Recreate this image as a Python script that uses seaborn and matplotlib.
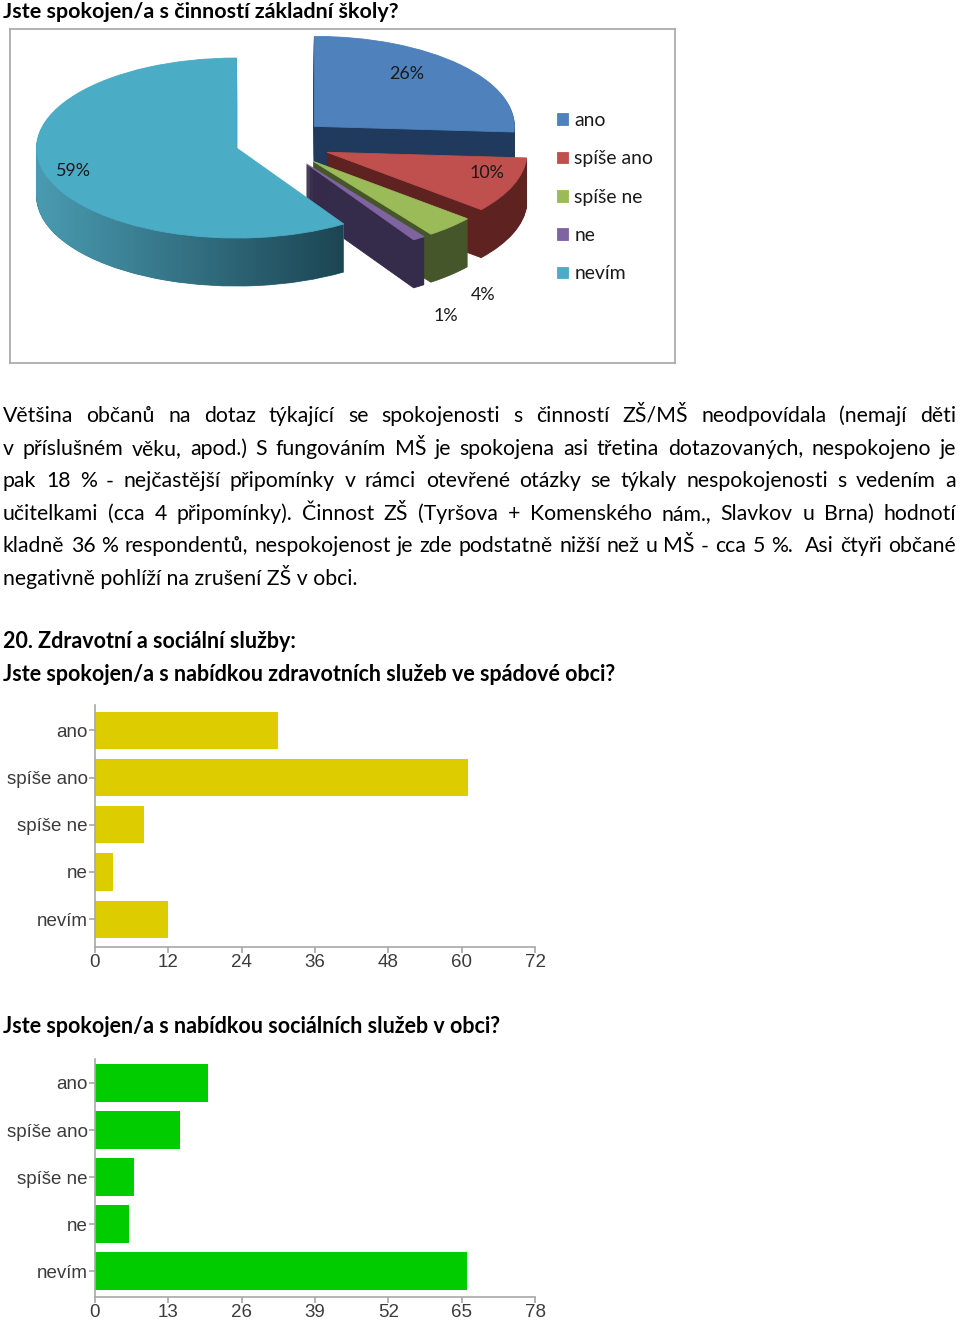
import numpy as np
import pandas as pd
import matplotlib
matplotlib.use("Agg")
import matplotlib.pyplot as plt
from matplotlib.colors import to_rgb
from matplotlib.path import Path
import seaborn as sns

# ---------------- data ----------------
pie_title = "Jste spokojen/a s činností základní školy?"
pie_categories = ["ano", "spíše ano", "spíše ne", "ne", "nevím"]
pie_percent = [26, 10, 4, 1, 59]

paragraph_lines = [
    "Většina občanů na dotaz týkající se spokojenosti s činností ZŠ/MŠ neodpovídala (nemají děti",
    "v příslušném věku, apod.) S fungováním MŠ je spokojena asi třetina dotazovaných, nespokojeno je",
    "pak 18 % - nejčastější připomínky v rámci otevřené otázky se týkaly nespokojenosti s vedením a",
    "učitelkami (cca 4 připomínky). Činnost ZŠ (Tyršova + Komenského nám., Slavkov u Brna) hodnotí",
    "kladně 36 % respondentů, nespokojenost je zde podstatně nižší než u MŠ - cca 5 %.  Asi čtyři občané",
    "negativně pohlíží na zrušení ZŠ v obci.",
]

section_heading = "20. Zdravotní a sociální služby:"

health_title = "Jste spokojen/a s nabídkou zdravotních služeb ve spádové obci?"
health_categories = ["ano", "spíše ano", "spíše ne", "ne", "nevím"]
health_counts = [30, 61, 8, 3, 12]
health_ticks = [0, 12, 24, 36, 48, 60, 72]

social_title = "Jste spokojen/a s nabídkou sociálních služeb v obci?"
social_categories = ["ano", "spíše ano", "spíše ne", "ne", "nevím"]
social_counts = [20, 15, 7, 6, 66]
social_ticks = [0, 13, 26, 39, 52, 65, 78]

# ---------------- style ----------------
pie_colors = ["#4F81BD", "#C0504D", "#9BBB59", "#8064A2", "#4BACC6"]
side_colors = ["#1F3A5C", "#5E2221", "#46562B", "#352B4A", "#2F7A8E"]
nevim_side_light, nevim_side_dark = "#4A9CB2", "#1C4553"
health_color = "#DDCC00"
social_color = "#00CC00"

W, H = 960, 1323
plt.rcParams["font.family"] = ["Lato", "DejaVu Sans"]
fig = plt.figure(figsize=(W / 100, H / 100), dpi=100)
renderer = fig.canvas.get_renderer()


def px_axes(x0, y0, x1, y1):
    return fig.add_axes([x0 / W, 1 - y1 / H, (x1 - x0) / W, (y1 - y0) / H])


def put_text(x, y, s, size, **kw):
    return fig.text(x / W, 1 - y / H, s, fontsize=size, **kw)


def fit_size(s, width, **kw):
    t = fig.text(0, 0, s, fontsize=20, **kw)
    w = t.get_window_extent(renderer).width
    t.remove()
    return 20 * width / w


# ---------------- headings ----------------
put_text(3, 18, pie_title, fit_size(pie_title, 395, weight="bold"),
         weight="bold", va="baseline", color="black")
put_text(3, 648, section_heading, fit_size(section_heading, 293, weight="bold"),
         weight="bold", va="baseline", color="black")
put_text(3, 681, health_title, fit_size(health_title, 614, weight="bold"),
         weight="bold", va="baseline", color="black")
put_text(3, 1033, social_title, fit_size(social_title, 498, weight="bold"),
         weight="bold", va="baseline", color="black")

# ---------------- paragraph (justified) ----------------
para_size = fit_size(paragraph_lines[-1], 354)
LEFT, RIGHT = 3, 956
for i, line in enumerate(paragraph_lines):
    yb = 422 + i * 32.6
    if i == len(paragraph_lines) - 1:
        put_text(LEFT, yb, line, para_size, va="baseline", color="black")
        continue
    words = line.split(" ")
    texts, widths = [], []
    for wd in words:
        if wd == "":
            texts.append(None)
            widths.append(0.0)
            continue
        t = put_text(0, yb, wd, para_size, va="baseline", color="black")
        texts.append(t)
        widths.append(t.get_window_extent(renderer).width)
    gap = (RIGHT - LEFT - sum(widths)) / (len(words) - 1)
    x = LEFT
    for t, w in zip(texts, widths):
        if t is not None:
            t.set_x(x / W)
        x += w + gap

# ---------------- 3D-look pie ----------------
FX0, FY0, FX1, FY1 = 10, 29, 675, 363
ax_pie = px_axes(FX0, FY0, FX1, FY1)
PCX, PCY, R_PX, SQ, DEPTH = 275, 143, 200, 0.45, 48
explode = [0.27, 0.28, 0.28, 0.28, 0.2]
NEVIM = pie_categories.index("nevím")


def dy(px):
    return px / (R_PX * SQ)


nevim_side_paths = []
for k in range(DEPTH, 0, -1):
    z = 1 + (DEPTH - k) * 0.01
    ws, _ = ax_pie.pie(pie_percent, colors=side_colors, startangle=90,
                       counterclock=False, explode=explode, radius=1,
                       center=(0, -dy(k)), frame=True)
    for w in ws:
        w.set_edgecolor(w.get_facecolor())
        w.set_linewidth(0.6)
        w.set_zorder(z)
    nevim_side_paths.append(ws[NEVIM].get_path())

# horizontal shading for the big slice's side, clipped to the swept side region
c0, c1 = np.array(to_rgb(nevim_side_light)), np.array(to_rgb(nevim_side_dark))
ramp = np.linspace(0, 1, 256)[:, None]
grad = (c0[None, :] * (1 - ramp) + c1[None, :] * ramp)[None, :, :]
gx0, gx1 = (33 - PCX) / R_PX, (345 - PCX) / R_PX
im = ax_pie.imshow(grad, extent=(gx0, gx1, -3, 3), aspect="auto",
                   zorder=2.5, interpolation="bilinear")
im.set_clip_path(Path.make_compound_path(*nevim_side_paths), ax_pie.transData)

top_wedges, _ = ax_pie.pie(pie_percent, colors=pie_colors, startangle=90,
                           counterclock=False, explode=explode, radius=1,
                           center=(0, 0), frame=True)
for w in top_wedges:
    w.set_edgecolor(w.get_facecolor())
    w.set_linewidth(0.6)
    w.set_zorder(3)

ax_pie.set_aspect("auto")
ax_pie.set_xlim((FX0 - PCX) / R_PX, (FX1 - PCX) / R_PX)
ax_pie.set_ylim(-(FY1 - PCY) / (R_PX * SQ), -(FY0 - PCY) / (R_PX * SQ))
ax_pie.set_xticks([])
ax_pie.set_yticks([])
for s in ax_pie.spines.values():
    s.set_visible(True)
    s.set_color("#A6A6A6")
    s.set_linewidth(1.2)

pie_fs = fit_size("26%", 35)
label_frac = [0.63, 0.86, 1.24, 1.24, 0.85]
label_drop = [-14, -8, 52, 60, 2]
for w, pct, f, d in zip(top_wedges, pie_percent, label_frac, label_drop):
    mid = np.deg2rad((w.theta1 + w.theta2) / 2)
    cx, cy = w.center
    ax_pie.text(cx + f * np.cos(mid), cy + f * np.sin(mid) - dy(d), f"{pct}%",
                ha="center", va="center", fontsize=pie_fs, color="#1A1A1A",
                zorder=5)

leg_fs = fit_size("spíše ano", 79)
leg = ax_pie.legend(top_wedges, pie_categories, loc="upper left",
                    bbox_to_anchor=(557 / W, 1 - 112 / H),
                    bbox_transform=fig.transFigure, frameon=False,
                    fontsize=leg_fs, borderpad=0, borderaxespad=0,
                    handlelength=0.55, handleheight=0.55, handletextpad=0.35,
                    labelspacing=1.1)
for t in leg.get_texts():
    t.set_color("#1A1A1A")

# ---------------- bar charts ----------------
bar_fs = fit_size("spíše ano", 81, family="Liberation Sans")


def bar_panel(box, cats, vals, ticks, color, ylim, width):
    ax = px_axes(*box)
    df = pd.DataFrame({"odpověď": cats, "počet": vals})
    sns.barplot(data=df, x="počet", y="odpověď", orient="h", color=color,
                saturation=1, width=width, linewidth=0, ax=ax)
    ax.set_xlim(ticks[0], ticks[-1])
    ax.set_xticks(ticks)
    ax.set_ylim(*ylim)
    ax.set_xlabel("")
    ax.set_ylabel("")
    ax.set_facecolor("none")
    for s in ["top", "right"]:
        ax.spines[s].set_visible(False)
    for s in ["left", "bottom"]:
        ax.spines[s].set_color("#A8A8A8")
        ax.spines[s].set_linewidth(1.2)
    ax.tick_params(axis="both", length=4.5, width=1.2, color="#A8A8A8",
                   labelcolor="#3C3C3C", labelsize=bar_fs, pad=0.8,
                   direction="out", left=True, bottom=True)
    for lab in ax.get_xticklabels() + ax.get_yticklabels():
        lab.set_fontfamily("Liberation Sans")
    return ax


bar_panel((95, 705, 535, 947), health_categories, health_counts, health_ticks,
          health_color, (4.59, -0.54), 0.79)
bar_panel((95, 1059, 535, 1297), social_categories, social_counts, social_ticks,
          social_color, (4.55, -0.51), 0.8)

fig.savefig("out.png", dpi=100)
